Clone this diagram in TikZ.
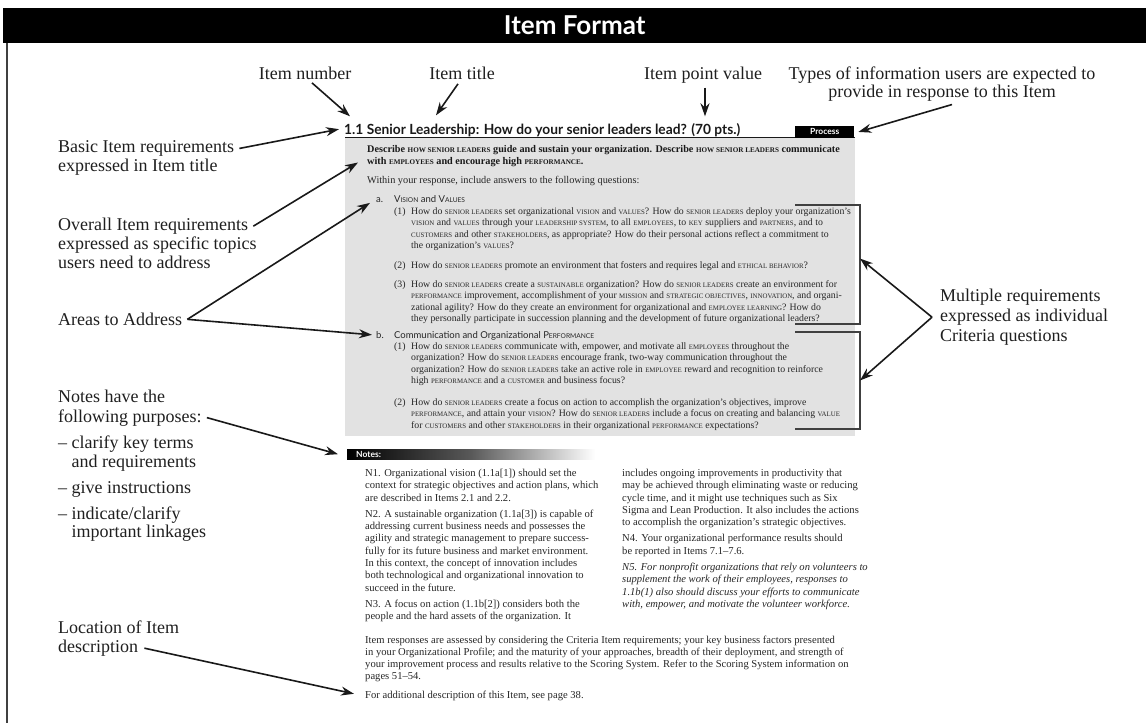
\documentclass[tikz,border=0pt]{standalone}
\usepackage{fontspec}
\usepackage{graphicx}
\setmainfont{Liberation Serif}
\newfontfamily\sansf{Lato}
\usetikzlibrary{arrows.meta,calc}
\definecolor{boxgray}{RGB}{226,226,226}
\newsavebox\fitbox
\newcommand\fitw[2]{\sbox\fitbox{#2}\pgfmathsetmacro\fitr{#1/\the\wd\fitbox}\scalebox{\fitr}[1]{\usebox\fitbox}}
\newcommand\gl[1]{\scalebox{0.7}{\MakeUppercase{#1}}}
\newcommand\fLab{\fontsize{18}{19}\selectfont}
\newcommand\fQ{\fontsize{9.8}{11.5}\selectfont}
\newcommand\fD{\bfseries\fontsize{10.2}{12}\selectfont}
\newcommand\fW{\fontsize{10.3}{12}\selectfont}
\newcommand\fN{\fontsize{10.6}{12.3}\selectfont}
\newcommand\fS{\sansf\fontsize{9.5}{11}\selectfont}
\tikzset{
 lab/.style={font=\fLab, anchor=base west, inner sep=0pt, text=black!88},
 labc/.style={font=\fLab, anchor=base, inner sep=0pt, text=black!88},
 qt/.style={font=\fQ, anchor=base west, inner sep=0pt, text=black!85},
 dt/.style={font=\fD, anchor=base west, inner sep=0pt, text=black!90},
 wt/.style={font=\fW, anchor=base west, inner sep=0pt, text=black!85},
 nt/.style={font=\fN, anchor=base west, inner sep=0pt, text=black!85},
 st/.style={font=\fS, anchor=base west, inner sep=0pt, text=black!85},
 arr/.style={-{Stealth[length=13pt,width=9pt]}, line width=1.6pt, black!90},
 brk/.style={line width=1.1pt, black!75},
}
\begin{document}
\begin{tikzpicture}[x=1pt,y=-1pt]
\useasboundingbox (0,0) rectangle (1146,723);
% header
\node[fill=black, minimum width=1143pt, minimum height=35pt, anchor=north west, inner sep=0pt] (hdr) at (3,8) {};
\node[text=white, font=\sansf\bfseries\fontsize{26}{30}\selectfont, inner sep=0pt] (htl) at (hdr.center) {Item Format};
\draw[line width=1.8pt, black!75] (7,43) -- (7,723);

% gray box and title
\fill[boxgray] (345,137.5) rectangle (855,436);
\draw[line width=1.2pt, black!90] (345,137.5) -- (855,137.5);
\node[anchor=base west, inner sep=0pt, text=black!90] (ttl) at (344,134.5) {\fitw{396}{\sansf\bfseries\fontsize{14}{16}\selectfont 1.1 Senior Leadership: How do your senior leaders lead? (70 pts.)}};
\node[fill=black, text=white, font=\sansf\bfseries\fontsize{8.5}{9}\selectfont, minimum width=59pt, minimum height=11.5pt, inner sep=0pt, anchor=north west] (proc) at (795,126) {Process};

% describe
\node[dt] (d1) at (367,152.4) {Describe \gl{how senior leaders} guide and sustain your organization. Describe \gl{how senior leaders} communicate};
\node[dt] (d2) at (367,164.9) {with \gl{employees} and encourage high \gl{performance}.};
\node[wt] (wi) at (367,183.4) {Within your response, include answers to the following questions:};

% a
\node[st] (alab) at (376,202.3) {a.};
\node[st] (atx) at (394,202.3) {V\gl{ision} and V\gl{alues}};
\node[qt] (an1) at (394,214.3) {(1)};
\node[qt] (a1a) at (411,214.3) {How do \gl{senior leaders} set organizational \gl{vision} and \gl{values}? How do \gl{senior leaders} deploy your organization’s};
\node[qt] (a1b) at (411,225.8) {\gl{vision} and \gl{values} through your \gl{leadership system}, to all \gl{employees}, to \gl{key} suppliers and \gl{partners}, and to};
\node[qt] (a1c) at (411,237.3) {\gl{customers} and other \gl{stakeholders}, as appropriate? How do their personal actions reflect a commitment to};
\node[qt] (a1d) at (411,248.8) {the organization’s \gl{values}?};
\node[qt] (an2) at (394,268.3) {(2)};
\node[qt] (a2a) at (411,268.3) {How do \gl{senior leaders} promote an environment that fosters and requires legal and \gl{ethical behavior}?};
\node[qt] (an3) at (394,287.3) {(3)};
\node[qt] (a3a) at (411,287.3) {How do \gl{senior leaders} create a \gl{sustainable} organization? How do \gl{senior leaders} create an environment for};
\node[qt] (a3b) at (411,298.8) {\gl{performance} improvement, accomplishment of your \gl{mission} and \gl{strategic objectives}, \gl{innovation}, and organi-};
\node[qt] (a3c) at (411,310.3) {zational agility? How do they create an environment for organizational and \gl{employee learning}? How do};
\node[qt] (a3d) at (411,321.8) {they personally participate in succession planning and the development of future organizational leaders?};

% b
\node[st] (blab) at (376,338.3) {b.};
\node[st] (btx) at (394,338.3) {Communication and Organizational P\gl{erformance}};
\node[qt] (bn1) at (394,349.3) {(1)};
\node[qt] (b1a) at (411,349.3) {How do \gl{senior leaders} communicate with, empower, and motivate all \gl{employees} throughout the};
\node[qt] (b1b) at (411,360.8) {organization? How do \gl{senior leaders} encourage frank, two-way communication throughout the};
\node[qt] (b1c) at (411,372.3) {organization? How do \gl{senior leaders} take an active role in \gl{employee} reward and recognition to reinforce};
\node[qt] (b1d) at (411,383.8) {high \gl{performance} and a \gl{customer} and business focus?};
\node[qt] (bn2) at (394,405.3) {(2)};
\node[qt] (b2a) at (411,405.3) {How do \gl{senior leaders} create a focus on action to accomplish the organization’s objectives, improve};
\node[qt] (b2b) at (411,416.8) {\gl{performance}, and attain your \gl{vision}? How do \gl{senior leaders} include a focus on creating and balancing \gl{value}};
\node[qt] (b2c) at (411,428.3) {for \gl{customers} and other \gl{stakeholders} in their organizational \gl{performance} expectations?};

% brackets
\coordinate (ba1) at (795,205); \coordinate (ba2) at (860,205);
\coordinate (ba3) at (860,324); \coordinate (ba4) at (795,324);
\coordinate (bb1) at (795,332); \coordinate (bb2) at (860,332);
\coordinate (bb3) at (860,429); \coordinate (bb4) at (795,429);
\draw[brk] (ba1) -- (ba2) -- (ba3) -- (ba4);
\draw[brk] (bb1) -- (bb2) -- (bb3) -- (bb4);

% notes
\node[anchor=north west, minimum width=248pt, minimum height=10pt, inner sep=0pt, left color=black, right color=white, middle color=black!65] (nbar) at (347,449) {};
\node[anchor=base west, inner sep=0pt, text=white, font=\sansf\bfseries\fontsize{8.5}{9}\selectfont] (ntl) at (356,457.5) {Notes:};

\node[nt] (n1a) at (365,476.4) {N1. Organizational vision (1.1a[1]) should set the};
\node[nt] (n1b) at (365,488.7) {context for strategic objectives and action plans, which};
\node[nt] (n1c) at (365,501) {are described in Items 2.1 and 2.2.};
\node[nt] (n2a) at (365,517.3) {N2. A sustainable organization (1.1a[3]) is capable of};
\node[nt] (n2b) at (365,529.6) {addressing current business needs and possesses the};
\node[nt] (n2c) at (365,541.9) {agility and strategic management to prepare success-};
\node[nt] (n2d) at (365,554.2) {fully for its future business and market environment.};
\node[nt] (n2e) at (365,566.5) {In this context, the concept of innovation includes};
\node[nt] (n2f) at (365,578.8) {both technological and organizational innovation to};
\node[nt] (n2g) at (365,591.1) {succeed in the future.};
\node[nt] (n3a) at (365,607.4) {N3. A focus on action (1.1b[2]) considers both the};
\node[nt] (n3b) at (365,619.7) {people and the hard assets of the organization. It};

\node[nt] (c2a) at (622,476.4) {includes ongoing improvements in productivity that};
\node[nt] (c2b) at (622,488.7) {may be achieved through eliminating waste or reducing};
\node[nt] (c2c) at (622,501) {cycle time, and it might use techniques such as Six};
\node[nt] (c2d) at (622,513.3) {Sigma and Lean Production. It also includes the actions};
\node[nt] (c2e) at (622,525.6) {to accomplish the organization’s strategic objectives.};
\node[nt] (n4a) at (622,541.9) {N4. Your organizational performance results should};
\node[nt] (n4b) at (622,554.2) {be reported in Items 7.1–7.6.};
\node[nt, font=\fN\itshape] (n5a) at (622,570.5) {N5. For nonprofit organizations that rely on volunteers to};
\node[nt, font=\fN\itshape] (n5b) at (622,582.8) {supplement the work of their employees, responses to};
\node[nt, font=\fN\itshape] (n5c) at (622,595.1) {1.1b(1) also should discuss your efforts to communicate};
\node[nt, font=\fN\itshape] (n5d) at (622,607.4) {with, empower, and motivate the volunteer workforce.};

\node[nt] (ir1) at (365,643.4) {Item responses are assessed by considering the Criteria Item requirements; your key business factors presented};
\node[nt] (ir2) at (365,655.4) {in your Organizational Profile; and the maturity of your approaches, breadth of their deployment, and strength of};
\node[nt] (ir3) at (365,667.4) {your improvement process and results relative to the Scoring System. Refer to the Scoring System information on};
\node[nt] (ir4) at (365,679.4) {pages 51–54.};
\node[nt] (fa) at (365,698.4) {For additional description of this Item, see page 38.};

% top labels
\node[labc] (inum) at (305,79.5) {Item number};
\node[labc] (ititle) at (462,79.5) {Item title};
\node[labc] (ipv) at (703,79.5) {Item point value};
\node[labc] (typ1) at (942,79.5) {Types of information users are expected to};
\node[labc] (typ2) at (942,97.5) {provide in response to this Item};

% left labels
\node[lab] (bas1) at (58,152.5) {Basic Item requirements};
\node[lab] (bas2) at (58,171.5) {expressed in Item title};
\node[lab] (ov1) at (58,230.5) {Overall Item requirements};
\node[lab] (ov2) at (58,249.5) {expressed as specific topics};
\node[lab] (ov3) at (58,268.5) {users need to address};
\node[lab] (areas) at (58,325.5) {Areas to Address};
\node[lab] (nh1) at (58,402.5) {Notes have the};
\node[lab] (nh2) at (58,422) {following purposes:};
\node[lab] (p1a) at (58,448.5) {– clarify key terms};
\node[lab] (p1b) at (71.5,467) {and requirements};
\node[lab] (p2) at (58,493) {– give instructions};
\node[lab] (p3a) at (58,519) {– indicate/clarify};
\node[lab] (p3b) at (71.5,537.5) {important linkages};
\node[lab] (lo1) at (58,633.5) {Location of Item};
\node[lab] (lo2) at (58,652.5) {description};

% right labels
\node[lab] (mr1) at (940,301.5) {Multiple requirements};
\node[lab] (mr2) at (940,321.5) {expressed as individual};
\node[lab] (mr3) at (940,341.5) {Criteria questions};

% arrows
\draw[arr] ($(inum.south)+(7,3)$) -- ($(ttl.north west)+(6,-7)$);
\draw[arr] ($(ititle.south)+(-4,4)$) -- ($(ttl.north west)+(92,-8)$);
\draw[arr] ($(ipv.south)+(2,4)$) -- ($(ttl.north west)+(361,-7)$);
\draw[arr] ($(typ2.south)+(10,3)$) -- ($(proc.east)+(4,0)$);
\draw[arr] ($(bas1.east)+(5,0)$) -- ($(ttl.west)+(-5,-1)$);
\draw[arr] ($(ov1.east)+(5,0)$) -- ($(d2.west)+(-9,0)$);
\draw[arr] ($(areas.east)+(5,0)$) -- ($(alab.west)+(-6,3)$);
\draw[arr] ($(areas.east)+(5,0)$) -- ($(blab.west)+(-4,0)$);
\draw[arr] ($(nh2.east)+(5,0)$) -- ($(nbar.west)+(-9,0)$);
\draw[arr] ($(lo2.east)+(6,0)$) -- ($(fa.west)+(-11,-2)$);
\coordinate (apex) at ($(mr2.west)+(-8,0)$);
\draw[arr] (apex) -- ($(ba2)!0.45!(ba3)$);
\draw[arr] (apex) -- ($(bb2)!0.5!(bb3)$);
\end{tikzpicture}
\end{document}
